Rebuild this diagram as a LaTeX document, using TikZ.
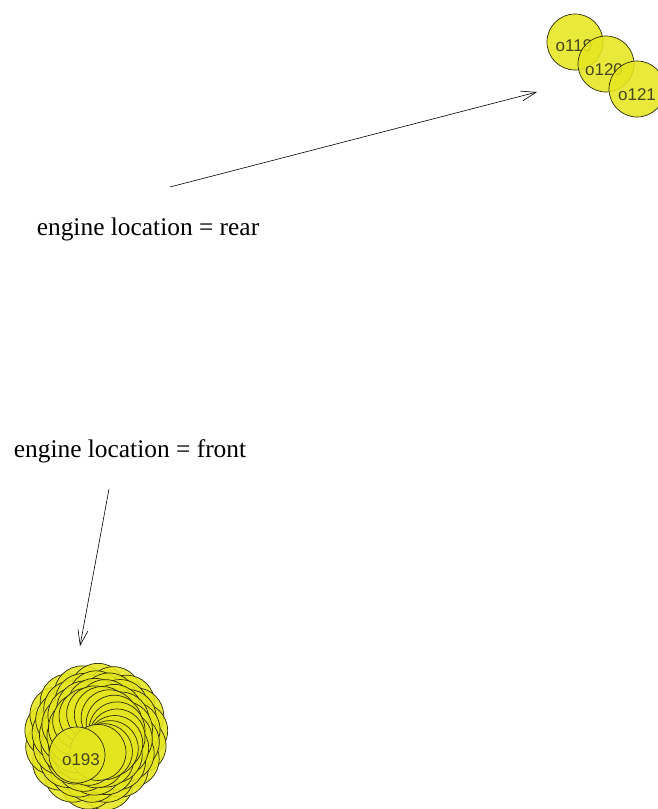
\documentclass[tikz,border=0pt]{standalone}
\usepackage{fontspec}
\setmainfont{Liberation Serif}
\newfontfamily\labelfont{Liberation Sans}
\usetikzlibrary{arrows.meta,calc}

\definecolor{caseyellow}{RGB}{230,230,32}
\definecolor{caseedge}{RGB}{45,45,10}
\definecolor{casetext}{RGB}{70,70,30}

\tikzset{
  case/.style={draw=caseedge, line width=0.7pt, circle, fill=caseyellow, fill opacity=0.88,
    text opacity=1, minimum size=56pt, inner sep=0pt, text=casetext,
    font=\labelfont\fontsize{17}{17}\selectfont},
  caselabel/.style={text=casetext, font=\labelfont\fontsize{17}{17}\selectfont},
  rule/.style={font=\fontsize{25.4}{30}\selectfont},
  pointer/.style={draw, line width=0.6pt, -{Straight Barb[length=15pt,width=10pt,line width=0.6pt]}}
}

\begin{document}
\begin{tikzpicture}[x=1pt,y=-1pt]
\useasboundingbox (0,0) rectangle (657,809);

\node[rule] (rear) at (148,229) {engine location = rear};
\node[rule] (front) at (130,451) {engine location = front};

% rear cases
\node[case] (c119) at (575,42) {};
\node[caselabel] (t119) at (574,46) {o119};
\node[case] (c120) at (606,64) {};
\node[caselabel] (t120) at (604,70) {o120};
\node[case] (c121) at (637,89) {};
\node[caselabel] (t121) at (637,95) {o121};

% front cases
\foreach \i in {1,...,70}{
  \pgfmathsetmacro{\rr}{48*(1-\i/110)}
  \pgfmathsetmacro{\aa}{60+\i*21}
  \node[case] (k\i) at ($(98,735)+(\aa:\rr)$) {};
}
\node[case] (c193) at (77,755) {};
\node[caselabel] (t193) at (81,760) {o193};

\coordinate (rearfrom) at (170,187);
\coordinate (rearto) at (537,92);
\coordinate (frontfrom) at (109,489);
\coordinate (frontto) at (80,646);

\path[pointer] (rearfrom) -- (rearto);
\path[pointer] (frontfrom) -- (frontto);
\end{tikzpicture}
\end{document}
